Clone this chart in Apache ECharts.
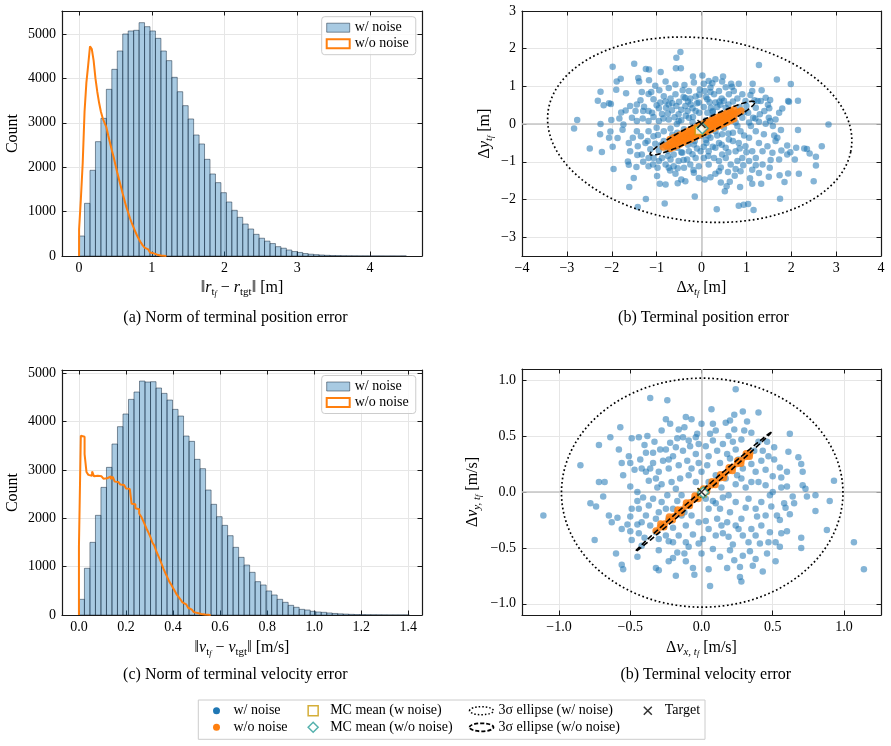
<!DOCTYPE html>
<html>
<head>
<meta charset="utf-8">
<script src="https://cdn.jsdelivr.net/npm/echarts@6.0.0/dist/echarts.min.js"></script>
<style>html,body{margin:0;padding:0;background:#fff}#chart{width:891px;height:746px}</style>
</head>
<body>
<div id="chart"></div>
<script>
// ---- histogram data (bin start, bin width, counts) ----
const posNoiseStart = 0, posNoiseWidth = 0.075;
const posNoise = [450,1186,1930,2575,3100,3754,4204,4617,5000,5068,5083,5255,5165,5068,4902,4617,4400,4024,3700,3386,
  3086,2725,2523,2177,1847,1652,1426,1216,1029,871,720,608,488,400,335,280,210,175,135,100,
  80,55,40,30,22,15,10,8,5,4,3,2,2,1,1,1,0,1,0,1];
const posCleanStart = 0, posCleanWidth = 0.025;
const posClean = [600,1300,2100,3250,3900,4300,4720,4660,4400,4000,3700,3450,3250,3100,3000,2900,2720,2550,2380,2230,
  2050,1880,1720,1560,1400,1250,1100,980,850,740,640,540,450,370,300,240,190,150,110,80,
  60,45,30,20,12,8,4,2];
const velNoiseStart = 0, velNoiseWidth = 0.0234;
const velNoise = [324,966,1503,2062,2641,3055,3538,3897,4159,4462,4614,4841,4821,4828,4697,4586,4448,4255,4117,3703,
  3593,3221,3028,2586,2290,2034,1855,1641,1400,1193,1034,883,690,621,497,414,324,262,200,159,
  117,103,76,62,55,42,32,24,18,13,9,7,5,4,3,2,1,1,1,1];
const velCleanStart = 0, velCleanWidth = 0.008;
const velClean = [1414,3710,3690,3330,2960,2900,2880,2970,2870,2880,2860,2870,2840,2820,2830,2800,2870,2810,2860,2760,
  2750,2720,2700,2690,2660,2620,2610,2590,2300,2290,2210,2190,2100,2040,1960,1870,1780,1700,1610,1500,
  1440,1330,1240,1150,1050,950,860,780,690,630,560,490,420,370,320,260,220,180,150,110,
  80,60,40,30,20,14,9,5,3,1];

// ---- terminal position error scatter [dx, dy] ----
const posNoiseXY = [
  [-0.47,1.91],[-0.56,1.76],[-0.57,1.48],[-0.46,1.48],[-1.50,1.60],[-1.98,1.52],[-1.17,1.45],[-1.24,1.46],[-0.91,1.38],
  [-1.41,1.22],[-1.39,1.13],[-1.17,1.16],[-1.89,1.13],[-1.80,1.20],[-2.25,0.86],[-2.31,0.62],[-2.18,0.50],[-2.06,0.55],[-2.02,0.53],[-1.90,0.91],
  [-2.77,0.11],[-2.84,-0.12],[-2.49,-0.65],[-2.22,-0.74],[-2.26,-0.27],[-2.06,-0.36],[-2.03,-0.20],[-1.98,-0.60],[-2.01,0.11],[-2.25,0.00],
  [-1.79,0.31],[-1.69,0.36],[-1.83,0.15],[-1.74,-0.01],[-1.87,-0.37],[-1.76,-0.15],[-1.96,-1.19],[-1.62,-1.08],[-1.64,-0.99],[-1.61,-1.67],
  [-1.51,-1.43],[-1.42,-2.20],[-1.24,-1.99],[-0.82,-2.11],[-0.93,-1.58],[-0.80,-1.60],[-0.99,-1.38],[-0.53,-1.57],[-0.36,-1.52],[-0.15,-1.92],
  [0.34,-2.26],[0.83,-2.17],[0.94,-2.14],[1.04,-2.12],[1.16,-2.28],[1.75,-1.98],[0.52,-1.78],[0.56,-1.65],[0.86,-1.67],[1.13,-1.58],
  [1.33,-1.58],[1.85,-1.54],[2.17,-1.32],[2.50,-1.52],[1.93,-1.31],[1.74,-1.36],[1.50,-1.40],[2.55,-1.10],[2.55,-0.87],[2.41,-0.78],
  [2.35,-0.66],[2.29,-0.65],[2.68,-0.59],[2.08,-0.94],[2.11,-0.63],[1.98,-0.75],[1.91,-0.57],[1.78,-0.70],[2.83,-0.01],[2.15,-0.16],
  [1.77,-0.16],[1.93,0.61],[2.15,0.62],[1.95,0.59],[1.80,0.41],[1.53,0.64],[1.48,0.51],[1.34,0.90],[1.14,1.07],[1.68,1.18],
  [1.28,1.57],[1.99,1.06],[0.48,1.26],[0.02,1.29],[-0.19,1.26],[0.05,1.07],[0.24,1.08],[0.66,1.07],[0.68,0.99],[1.18,0.63],
  [1.25,0.61],[1.51,0.42],[1.50,0.17],[1.53,0.08],[1.43,0.01],[1.62,-0.30],[1.69,-0.36],[1.91,-0.81],[1.54,-0.95],[1.52,-1.16],
  [1.36,-1.07],[1.21,-1.09],[0.93,-1.09],[0.76,-1.19],[0.59,-1.27],[0.43,-1.15],[0.20,-1.41],[0.07,-1.47],[-0.06,-1.43],[-0.58,-1.32],
  [-0.70,-1.23],[-0.98,-1.16],[-1.08,-1.07],[-1.18,-0.90],[-1.43,-0.82],[-1.30,-1.00],[-1.45,-1.14],[-0.75,-0.85],[0.43,-1.55],[0.63,-1.53],
  [1.08,-1.44],[1.28,-1.30],[0.74,-1.37],[0.31,-1.32],[-0.18,-1.22],[-0.45,-1.47],[-0.53,-1.17],
  [-1.68,0.82],[-1.59,0.48],[-1.47,0.35],[-1.36,0.63],[-1.28,0.46],[-1.18,0.80],[-1.07,0.66],[-1.00,0.50],[-1.12,0.85],[-0.94,0.90],
  [-0.84,0.74],[-0.73,0.96],[-0.69,0.68],[-0.58,0.79],[-0.50,0.59],[-0.42,0.90],[-0.36,0.69],[-0.28,0.88],[-0.24,0.52],[-0.13,0.73],
  [-0.04,0.92],[-0.06,0.57],[-0.13,0.35],[-0.31,0.35],[-0.51,0.26],[-0.66,0.37],[-0.79,0.43],[-0.88,0.27],[-1.07,0.19],[-1.18,0.35],
  [-1.31,0.15],[-1.44,0.08],[-1.55,0.17],[-1.44,0.52],[-1.18,0.08],[-0.95,0.08],[-0.73,0.12],[-0.51,0.08],[-0.28,0.17],[-0.58,1.05],
  [-0.80,1.13],[-0.38,1.04],[-0.17,1.10],[-1.03,1.02],[-0.73,0.52],[-0.56,0.48],[-0.19,0.19],[-0.36,0.48],[-0.92,0.57],[-1.33,0.85],
  [0.07,0.88],[0.13,0.66],[0.20,0.97],[0.28,0.79],[0.39,0.88],[0.45,0.68],[0.54,0.98],[0.61,0.79],[0.72,0.88],[0.80,0.68],
  [0.91,0.79],[0.98,0.61],[1.09,0.77],[1.21,0.43],[1.32,0.61],[1.40,0.35],[1.30,0.26],[1.15,0.17],[1.04,0.30],[0.91,0.17],
  [0.77,0.27],[0.65,0.35],[0.54,0.43],[0.42,0.51],[0.31,0.57],[0.21,0.43],[0.13,0.30],[0.24,0.19],[0.39,0.12],[0.54,0.08],
  [0.76,0.04],[1.06,0.04],[1.28,0.06],[1.65,0.12],[1.73,0.30],[1.59,-0.05],[0.83,1.07],[0.46,1.13],[0.31,1.19],[0.16,1.14],
  [1.13,0.88],[1.43,0.70],
  [-1.62,-0.50],[-1.53,-0.36],[-1.42,-0.59],[-1.35,-0.32],[-1.25,-0.50],[-1.14,-0.67],[-1.07,-0.32],[-1.03,-0.52],[-0.95,-0.70],[-0.88,-0.90],
  [-0.95,-0.98],[-0.80,-1.07],[-0.69,-0.94],[-0.62,-1.12],[-0.51,-0.98],[-0.39,-1.16],[-0.32,-0.94],[-0.25,-1.07],[-0.13,-0.90],[-0.06,-1.12],
  [-0.02,-0.72],[-0.17,-0.54],[-0.28,-0.72],[-0.43,-0.76],[-0.54,-0.63],[-0.62,-0.81],[-0.73,-0.59],[-0.84,-0.45],[-0.97,-0.29],[-0.84,-0.19],
  [-0.69,-0.12],[-0.54,-0.23],[-0.39,-0.14],[-0.28,-0.36],[-0.13,-0.23],[-1.18,-0.19],[-1.44,-0.19],[-1.59,-0.72],[-1.33,-0.81],[-1.07,-0.90],
  [-0.73,-1.16],[-0.17,-1.29],[-1.18,-1.12],
  [0.09,-0.19],[0.20,-0.36],[0.31,-0.19],[0.39,-0.50],[0.46,-0.27],[0.54,-0.63],[0.61,-0.41],[0.70,-0.23],[0.76,-0.72],[0.83,-0.50],
  [0.91,-0.90],[0.98,-0.59],[1.06,-0.36],[1.13,-0.72],[1.21,-0.90],[1.28,-0.50],[1.36,-0.72],[1.47,-0.59],[1.39,-0.27],[1.21,-0.19],
  [0.87,-0.19],[0.16,-0.72],[0.28,-0.90],[0.05,-0.90],[0.16,-1.07],[0.39,-0.98],[0.54,-0.90],[0.65,-1.07],[0.80,-0.98],[1.06,-0.98],
  [0.46,-0.81],[0.31,-0.63],[0.11,-0.50],[1.65,-0.45],[1.58,-0.76],[1.73,-0.94],[0.39,-1.25],[0.87,-1.25],[1.13,-1.21],
  [-0.20,0.05],[0.10,0.10],[0.30,-0.05],[-0.35,-0.30],[0.15,-0.30],[-0.05,0.30],[0.50,-0.10],[-0.45,0.10],[0.25,0.35],[-0.15,-0.45],
  [0.60,0.20],[-0.60,-0.40],[0.05,-0.60],[-0.30,0.60],[0.40,0.60],
  [-1.10,0.30],[-0.95,0.42],[-0.85,0.15],[-0.75,0.28],[-0.65,0.55],[-0.60,0.18],[-0.45,0.38],[-0.40,0.72],[-0.35,0.22],[-0.25,0.68],
  [-0.20,0.42],[-0.10,0.55],[-0.05,0.78],[0.05,0.45],[0.10,0.72],[0.18,0.58],[0.25,0.32],[0.35,0.45],[0.45,0.28],[0.50,0.62],
  [0.60,0.52],[0.70,0.60],[0.85,0.45],[0.95,0.32],[1.00,0.48],[1.10,-0.05],[0.95,-0.30],[0.80,-0.05],[0.70,-0.45],[0.60,-0.75],
  [0.45,-0.55],[0.35,-0.30],[0.25,-0.60],[0.10,-0.42],[0.00,-0.30],[-0.10,-0.65],[-0.20,-0.80],[-0.30,-0.55],[-0.40,-0.95],[-0.50,-0.45],
  [-0.65,-0.28],[-0.75,-0.70],[-0.90,-0.55],[-1.00,-0.10],[-1.20,-0.45],[-1.30,0.35],[-0.55,0.00],[0.60,-0.25],[1.00,-0.75],[1.20,0.15],
  [0.20,0.85],[-0.45,-0.75],[0.15,-0.85],[-0.80,0.60],[0.85,-0.65]
];
const posCleanXY = [
  [-0.85,-0.61],[-0.78,-0.575],[-0.70,-0.53],[-0.62,-0.486],[-0.55,-0.447],[-0.48,-0.408],[-0.40,-0.364],[-0.33,-0.325],
  [-0.25,-0.28],[-0.18,-0.241],[-0.10,-0.197],[-0.03,-0.158],[0.05,-0.113],[0.12,-0.074],[0.20,-0.03],[0.27,0.009],
  [0.35,0.054],[0.42,0.092],[0.50,0.137],[0.57,0.176],[0.65,0.22],[0.72,0.259],[0.80,0.304],[0.88,0.348],
  [-0.70,-0.41],[-0.62,-0.366],[-0.55,-0.327],[-0.48,-0.288],[-0.40,-0.244],[-0.33,-0.205],[-0.25,-0.16],[-0.18,-0.121],
  [-0.10,-0.077],[-0.03,-0.038],[0.05,0.007],[0.12,0.046],[0.20,0.09],[0.27,0.129],[0.35,0.174],[0.42,0.212],
  [0.50,0.257],[0.57,0.296],[0.65,0.34],[0.72,0.379],
  [-0.70,-0.65],[-0.62,-0.606],[-0.55,-0.567],[-0.48,-0.528],[-0.40,-0.484],[-0.33,-0.445],[-0.25,-0.40],[-0.18,-0.361],
  [-0.10,-0.317],[-0.03,-0.278],[0.05,-0.233],[0.12,-0.194],[0.20,-0.15],[0.27,-0.111],[0.35,-0.066],[0.42,-0.028],
  [0.50,0.017],[0.57,0.056],[0.65,0.10],[0.72,0.139]
];
// ellipse: [cx, cy, semi-major, semi-minor, angle deg]
const posEllNoise = [-0.04, -0.15, 3.415, 2.425, -9.9];
const posEllClean = [0.02, -0.11, 1.355, 0.18, 31];
const posMeanNoise = [-0.05, -0.17];
const posMeanClean = [0.02, -0.11];

// ---- terminal velocity error scatter [dvx, dvy] ----
const velNoiseXY = [
  [-1.11,-0.21],[-0.85,0.24],[-0.72,0.42],[-0.72,0.09],[-0.68,0.09],[-0.78,-0.10],[-0.74,-0.13],[-0.69,-0.04],[-0.75,-0.43],[-0.60,-0.55],
  [-0.56,-0.65],[-0.55,-0.69],[-0.45,-0.58],[-0.64,0.49],[-0.57,0.58],[-0.49,0.48],[-0.44,0.49],[-0.38,0.50],[-0.36,0.84],[-0.24,0.82],
  [-0.58,0.38],[-0.51,0.32],[-0.56,0.26],[-0.50,0.26],[-0.55,0.15],[-0.65,-0.21],[-0.63,-0.27],[-0.59,-0.23],[-0.56,-0.33],[-0.52,-0.29],
  [-0.50,-0.35],[-0.49,-0.43],[-0.44,-0.37],[-0.40,-0.41],[-0.32,-0.68],[-0.30,-0.70],[-0.23,-0.62],[-0.20,-0.59],[-0.18,-0.75],[-0.11,-0.62],
  [-0.06,-0.68],[-0.05,-0.74],[0.06,-0.84],[0.05,-0.69],[0.13,-0.58],[0.18,-0.68],[0.23,-0.61],[0.27,-0.67],[0.27,-0.76],[0.28,-0.80],
  [0.36,-0.66],[0.43,-0.71],[0.38,-0.60],[0.29,-0.57],[0.52,-0.62],[0.46,-0.55],[0.52,-0.45],[0.56,-0.37],[0.60,-0.35],[0.55,-0.49],
  [0.70,-0.50],[0.70,-0.41],[0.88,-0.34],[1.07,-0.45],[1.14,-0.69],[0.90,-0.08],[0.80,-0.17],[0.74,-0.04],[0.80,-0.03],[0.65,-0.10],
  [0.58,-0.10],[0.59,-0.14],[0.93,0.10],[0.71,0.06],[0.73,0.03],[0.71,0.18],[0.70,0.25],[0.68,0.31],[0.61,0.36],[0.62,0.52],
  [0.51,0.40],[0.40,0.71],[0.29,0.72],[0.23,0.69],[0.24,0.92],[0.07,0.74],[0.17,0.62],[0.20,0.64],[0.32,0.63],[0.35,0.53],
  [0.23,0.56],[0.08,0.61],[0.00,0.61],[-0.07,0.65],[-0.11,0.67],[-0.25,0.65],[-0.22,0.61],[-0.16,0.56],[-0.09,0.46],[-0.03,0.52],
  [-0.43,0.29],[-0.42,0.21],[-0.36,0.21],[-0.29,0.38],[-0.25,0.38],[-0.17,0.48],[-0.49,-0.15],[-0.44,-0.15],[-0.45,-0.29],[-0.36,-0.30],
  [-0.23,-0.44],[-0.17,-0.54],[-0.09,-0.49],[-0.02,-0.46],[0.08,-0.51],[0.15,-0.37],[0.22,-0.47],[0.34,-0.53],[0.41,-0.46],[0.48,-0.36],
  [0.42,-0.30],[0.39,-0.22],[0.53,-0.21],[0.49,-0.13],[0.56,0.04],[0.50,0.14],[0.56,0.13],[0.60,0.18],[0.55,0.22],[0.45,0.20],
  [0.42,0.28],[0.46,0.45],[0.37,0.37],[0.51,0.29],[0.64,-0.04],
  [-0.34,0.26],[-0.30,0.18],[-0.27,0.28],[-0.23,0.21],[-0.20,0.32],[-0.16,0.24],[-0.13,0.37],[-0.10,0.28],[-0.07,0.21],[-0.04,0.34],
  [-0.02,0.26],[-0.09,0.15],[-0.15,0.12],[-0.21,0.09],[-0.28,0.07],[-0.32,0.12],[-0.37,0.10],[-0.39,0.18],[-0.31,0.04],[-0.18,0.03],
  [-0.04,0.09],[-0.02,0.43],[-0.18,0.40],[-0.04,0.49],[-0.22,0.44],[-0.34,0.35],[-0.39,0.35],[-0.13,0.49],[-0.23,0.29],[-0.08,0.41],
  [0.03,0.41],[0.05,0.32],[0.08,0.46],[0.11,0.37],[0.13,0.26],[0.15,0.43],[0.18,0.34],[0.20,0.21],[0.24,0.38],[0.26,0.29],
  [0.29,0.21],[0.33,0.32],[0.35,0.25],[0.38,0.18],[0.40,0.09],[0.35,0.09],[0.28,0.12],[0.24,0.07],[0.17,0.12],[0.10,0.15],
  [0.05,0.09],[0.14,0.04],[0.45,0.06],[0.47,0.32],[0.06,0.52],[0.28,0.47],[0.19,0.50],[0.04,0.24],[0.43,0.37],[0.31,0.04],
  [-0.45,-0.08],[-0.41,-0.05],[-0.37,-0.12],[-0.34,-0.06],[-0.30,-0.18],[-0.28,-0.09],[-0.24,-0.03],[-0.23,-0.24],[-0.20,-0.15],[-0.17,-0.08],
  [-0.14,-0.21],[-0.11,-0.30],[-0.09,-0.12],[-0.07,-0.21],[-0.04,-0.06],[-0.02,-0.27],[-0.06,-0.38],[-0.16,-0.39],[-0.20,-0.32],[-0.28,-0.30],
  [-0.32,-0.24],[-0.39,-0.21],[-0.25,-0.39],[-0.30,-0.42],[-0.11,-0.45],[-0.42,-0.27],[-0.32,-0.36],[-0.14,-0.03],
  [0.03,-0.06],[0.05,-0.15],[0.08,-0.08],[0.11,-0.24],[0.13,-0.15],[0.15,-0.05],[0.18,-0.27],[0.20,-0.18],[0.24,-0.09],[0.26,-0.33],
  [0.28,-0.24],[0.31,-0.14],[0.33,-0.06],[0.35,-0.33],[0.38,-0.15],[0.42,-0.09],[0.45,-0.21],[0.48,-0.03],[0.05,-0.33],[0.10,-0.39],
  [0.14,-0.30],[0.19,-0.40],[0.24,-0.30],[0.29,-0.39],[0.03,-0.26],[0.01,-0.42],[0.38,-0.39],[0.19,-0.03],
  [-0.50,0.05],[-0.47,0.20],[-0.40,0.42],[-0.33,0.45],[-0.28,0.55],[-0.12,0.58],[0.10,0.55],[0.22,0.45],[0.30,0.55],[0.40,0.45],
  [0.50,0.00],[0.55,-0.25],[0.47,-0.45],[0.33,-0.45],[0.20,-0.52],[0.00,-0.55],[-0.12,-0.55],[-0.30,-0.52],[-0.42,-0.48],[-0.50,-0.22],
  [-0.45,0.00],[0.60,0.05],[0.62,-0.20],[0.00,0.18],[-0.12,-0.18],[0.10,-0.10],[0.25,0.15],[-0.25,-0.15],[0.20,0.30],[-0.20,-0.45]
];
const velCleanXY = [
  [-0.32,-0.347],[-0.29,-0.315],[-0.26,-0.284],[-0.23,-0.252],[-0.20,-0.221],[-0.17,-0.189],[-0.14,-0.158],[-0.11,-0.126],
  [-0.08,-0.095],[-0.05,-0.063],[-0.02,-0.032],[0.01,0.0],[0.04,0.032],[0.07,0.063],[0.10,0.095],[0.13,0.126],
  [0.16,0.158],[0.19,0.189],[0.22,0.221],[0.25,0.252],[0.28,0.284],[0.31,0.315],[0.34,0.347],
  [-0.287,-0.285],[-0.227,-0.222],[-0.167,-0.159],[-0.107,-0.096],[-0.047,-0.033],[0.013,0.03],[0.073,0.093],[0.133,0.156],
  [0.193,0.219],[0.253,0.282],[0.313,0.345],
  [-0.263,-0.313],[-0.203,-0.25],[-0.143,-0.187],[-0.083,-0.124],[-0.023,-0.061],[0.037,0.002],[0.097,0.065],[0.157,0.128],
  [0.217,0.191],[0.277,0.254],[0.337,0.317]
];
const velEllNoise = [0.005, -0.006, 0.988, 1.024, 0];
const velEllClean = [0.012, 0.0, 0.715, 0.016, 48.2];
const velMeanNoise = [0.005, -0.006];
const velMeanClean = [0.012, -0.005];
const target = [0, 0];

// ---- styling ----
const F = '"Liberation Serif", "Times New Roman", serif';
const C0 = '#1f77b4', C1 = '#ff7f0e', GOLD = '#c99a06', TEAL = '#2a9d99';
const BAR_FILL = 'rgba(31,119,180,0.39)', BAR_EDGE = 'rgba(20,40,60,0.5)';
const ELLIPSE_ICON = 'path://M0,4C0,1.79 5.37,0 12,0C18.63,0 24,1.79 24,4C24,6.21 18.63,8 12,8C5.37,8 0,6.21 0,4Z';
const X_ICON = 'path://M0,0L10,10M10,0L0,10';

function toBins(start, width, counts) {
  return counts.map((c, i) => [start + i * width, start + (i + 1) * width, c]);
}
function toSteps(start, width, counts) {
  const pts = [[start, 0]];
  counts.forEach((c, i) => pts.push([start + i * width, c]));
  pts.push([start + counts.length * width, 0]);
  return pts;
}
function barRender(params, api) {
  const lo = api.coord([api.value(0), 0]);
  const hi = api.coord([api.value(1), api.value(2)]);
  return {type: 'rect', shape: {x: lo[0], y: hi[1], width: hi[0] - lo[0], height: lo[1] - hi[1]},
    style: {fill: BAR_FILL, stroke: BAR_EDGE, lineWidth: 1}};
}
function ellipseRender(dash, width) {
  return function (params, api) {
    const cx = api.value(0), cy = api.value(1), a = api.value(2), b = api.value(3);
    const th = api.value(4) * Math.PI / 180;
    const pts = [];
    for (let k = 0; k <= 240; k++) {
      const t = 2 * Math.PI * k / 240;
      pts.push(api.coord([
        cx + a * Math.cos(t) * Math.cos(th) - b * Math.sin(t) * Math.sin(th),
        cy + a * Math.cos(t) * Math.sin(th) + b * Math.sin(t) * Math.cos(th)
      ]));
    }
    return {type: 'polyline', shape: {points: pts}, style: {fill: 'none', stroke: '#000', lineWidth: width, lineDash: dash}};
  };
}

const nameStyle = {
  fontFamily: F, fontSize: 16, color: '#000', lineHeight: 20, verticalAlign: 'middle',
  rich: {
    i: {fontFamily: F, fontSize: 16, fontStyle: 'italic', lineHeight: 20},
    s: {fontFamily: F, fontSize: 11, fontStyle: 'italic', lineHeight: 10, verticalAlign: 'bottom'},
    r: {fontFamily: F, fontSize: 11, lineHeight: 10, verticalAlign: 'bottom'},
    f: {fontFamily: F, fontSize: 8, fontStyle: 'italic', lineHeight: 5, verticalAlign: 'bottom'}
  }
};
const axisLine = {show: true, onZero: false, lineStyle: {color: '#1a1a1a', width: 1.2}};
const axisTick = {show: true, inside: true, length: 4.5, lineStyle: {color: '#1a1a1a', width: 1}};
const plain = v => String(v);
const minus = v => (v < 0 ? '\u2212' : '') + Math.abs(v);
const minus1 = v => (v < 0 ? '\u2212' : '') + Math.abs(v).toFixed(1);

function mainAxis(gridIndex, position, min, max, split, fmt, showMin, showMax, name, nameGap, margin) {
  return {
    type: 'value', gridIndex, position, min, max, splitNumber: split,
    axisLine, axisTick,
    splitLine: {show: true, lineStyle: {color: '#e6e6e6', width: 1}},
    axisLabel: {color: '#000', fontFamily: F, fontSize: 14, margin, formatter: fmt, showMinLabel: showMin, showMaxLabel: showMax},
    name, nameLocation: 'middle', nameGap, nameTextStyle: nameStyle
  };
}
function sideAxis(gridIndex, position, min, max, split) {
  return {type: 'value', gridIndex, position, min, max, splitNumber: split,
    axisLine, axisTick, splitLine: {show: false}, axisLabel: {show: false}};
}

// axis index 2*g is the labelled axis of grid g, 2*g+1 the mirrored one
const xAxes = [
  mainAxis(0, 'bottom', -0.235, 4.715, 5, plain, false, false, '\u2016{i|r}{r|t}{f|f} \u2212 {i|r}{r|tgt}\u2016 [m]', 32, 5),
  sideAxis(0, 'top', -0.235, 4.715, 5),
  mainAxis(1, 'bottom', -4, 4, 8, minus, true, true, '\u0394{i|x}{s|t}{f|f} [m]', 32, 5),
  sideAxis(1, 'top', -4, 4, 8),
  mainAxis(2, 'bottom', -0.072, 1.458, 8, v => v.toFixed(1), false, false, '\u2016{i|v}{r|t}{f|f} \u2212 {i|v}{r|tgt}\u2016 [m/s]', 33, 5),
  sideAxis(2, 'top', -0.072, 1.458, 8),
  mainAxis(3, 'bottom', -1.26, 1.26, 5, minus1, false, false, '\u0394{i|v}{s|x, t}{f|f} [m/s]', 33, 5),
  sideAxis(3, 'top', -1.26, 1.26, 5)
];
const yAxes = [
  mainAxis(0, 'left', 0, 5518, 5, plain, true, false, 'Count', 49, 6),
  sideAxis(0, 'right', 0, 5518, 5),
  mainAxis(1, 'left', -3.5, 3, 7, minus, false, true, '\u0394{i|y}{s|t}{f|f} [m]', 37, 6),
  sideAxis(1, 'right', -3.5, 3, 7),
  mainAxis(2, 'left', 0, 5070, 5, plain, true, false, 'Count', 49, 6),
  sideAxis(2, 'right', 0, 5070, 5),
  mainAxis(3, 'left', -1.1, 1.1, 4, minus1, false, false, '\u0394{i|v}{s|y, t}{f|f} [m/s]', 49, 6),
  sideAxis(3, 'right', -1.1, 1.1, 4)
];

function histSeries(g, noiseBins, cleanSteps) {
  const ax = 2 * g;
  return [
    {type: 'custom', name: 'w/ noise', xAxisIndex: ax, yAxisIndex: ax, data: noiseBins,
      encode: {x: [0, 1], y: 2}, renderItem: barRender, clip: true, z: 2},
    {type: 'line', name: 'w/o noise', xAxisIndex: ax, yAxisIndex: ax, data: cleanSteps, step: 'end',
      symbol: 'none', showSymbol: false, clip: true, lineStyle: {color: C1, width: 2}, itemStyle: {color: C1}, z: 3}
  ];
}
function scatterSeries(g, noiseXY, cleanXY, cleanSize, ellNoise, ellClean, meanNoise, meanClean) {
  const ax = 2 * g;
  return [
    {type: 'scatter', name: 'w/ noise', xAxisIndex: ax, yAxisIndex: ax, data: noiseXY, symbolSize: 6.5,
      itemStyle: {color: C0, opacity: 0.55}, z: 2,
      markLine: {silent: true, symbol: ['none', 'none'], label: {show: false}, z: 1,
        lineStyle: {color: '#c4c4c4', width: 1.5, type: 'solid'}, data: [{xAxis: 0}, {yAxis: 0}]}},
    {type: 'scatter', name: 'w/o noise', xAxisIndex: ax, yAxisIndex: ax, data: cleanXY, symbolSize: cleanSize,
      itemStyle: {color: C1, opacity: 0.85}, z: 3},
    {type: 'custom', name: '3\u03c3 ellipse (w/ noise)', xAxisIndex: ax, yAxisIndex: ax, data: [ellNoise],
      encode: {x: 0, y: 1}, renderItem: ellipseRender([1.7, 2.6], 1.7), clip: true, z: 4},
    {type: 'custom', name: '3\u03c3 ellipse (w/o noise)', xAxisIndex: ax, yAxisIndex: ax, data: [ellClean],
      encode: {x: 0, y: 1}, renderItem: ellipseRender([5.5, 2.8], 1.6), clip: true, z: 4},
    {type: 'scatter', name: 'MC mean (w noise)', xAxisIndex: ax, yAxisIndex: ax, data: [meanNoise], symbol: 'rect', symbolSize: 8,
      itemStyle: {color: '#fff', borderColor: GOLD, borderWidth: 1.5}, z: 5},
    {type: 'scatter', name: 'MC mean (w/o noise)', xAxisIndex: ax, yAxisIndex: ax, data: [meanClean], symbol: 'diamond', symbolSize: 11,
      itemStyle: {color: '#fff', borderColor: TEAL, borderWidth: 1.6}, z: 6},
    {type: 'scatter', name: 'Target', xAxisIndex: ax, yAxisIndex: ax, data: [target], symbol: X_ICON, symbolSize: 8,
      itemStyle: {color: 'none', borderColor: '#000', borderWidth: 1.5}, z: 7}
  ];
}

const legendText = {fontFamily: F, fontSize: 14, color: '#000'};
function histLegend(top) {
  return {
    orient: 'vertical', left: 321.7, top, selectedMode: false, itemWidth: 23, itemHeight: 9, itemGap: 2,
    padding: [4, 7, 4, 4], backgroundColor: 'rgba(255,255,255,0.8)', borderColor: '#cccccc', borderWidth: 1, borderRadius: 3,
    textStyle: legendText,
    data: [
      {name: 'w/ noise', icon: 'rect', itemStyle: {color: BAR_FILL, borderColor: BAR_EDGE, borderWidth: 1}},
      {name: 'w/o noise', icon: 'rect', itemStyle: {color: '#fff', borderColor: C1, borderWidth: 2}}
    ]
  };
}
function bottomLegend(left, itemHeight, data) {
  return {orient: 'vertical', left, top: 703.7, selectedMode: false, itemWidth: 24, itemHeight, itemGap: 2.6,
    padding: 0, textStyle: legendText, data};
}

const chart = echarts.init(document.getElementById('chart'));
chart.setOption({
  animation: false,
  backgroundColor: '#fff',
  textStyle: {fontFamily: F},
  grid: [
    {left: 62, top: 11, width: 360, height: 245, containLabel: false, outerBoundsMode: 'none'},
    {left: 522, top: 11, width: 359, height: 245, containLabel: false, outerBoundsMode: 'none'},
    {left: 62, top: 370, width: 360, height: 245, containLabel: false, outerBoundsMode: 'none'},
    {left: 522, top: 369, width: 359, height: 246, containLabel: false, outerBoundsMode: 'none'}
  ],
  xAxis: xAxes,
  yAxis: yAxes,
  legend: [
    histLegend(16.7),
    histLegend(375.5),
    bottomLegend(213, 7, [
      {name: 'w/ noise', icon: 'circle', itemStyle: {color: C0, opacity: 1, borderWidth: 0}},
      {name: 'w/o noise', icon: 'circle', itemStyle: {color: C1, opacity: 1, borderWidth: 0}}
    ]),
    bottomLegend(307.4, 10, [
      {name: 'MC mean (w noise)', icon: 'path://M0,0H10V10H0Z', itemStyle: {color: '#fff', borderColor: GOLD, borderWidth: 1.5}},
      {name: 'MC mean (w/o noise)', icon: 'path://M5,0L10,5L5,10L0,5Z', itemStyle: {color: '#fff', borderColor: TEAL, borderWidth: 1.5}}
    ]),
    bottomLegend(467, 8, [
      {name: '3\u03c3 ellipse (w/ noise)', icon: ELLIPSE_ICON, itemStyle: {color: 'none', borderColor: '#000', borderWidth: 1.5, borderType: [1.5, 2]}},
      {name: '3\u03c3 ellipse (w/o noise)', icon: ELLIPSE_ICON, itemStyle: {color: 'none', borderColor: '#000', borderWidth: 1.8, borderType: [4, 2]}}
    ]),
    bottomLegend(641.3, 8, [
      {name: 'Target', icon: X_ICON, itemStyle: {color: 'none', borderColor: '#000', borderWidth: 1.5}}
    ])
  ],
  graphic: [
    {type: 'rect', shape: {x: 198.3, y: 700, width: 506.7, height: 39.3}, z: 0,
      style: {fill: 'rgba(255,255,255,0.8)', stroke: '#cccccc', lineWidth: 1}},
    {type: 'text', x: 235.5, y: 318, style: {text: '(a) Norm of terminal position error', font: '16px ' + F, fill: '#000', align: 'center', verticalAlign: 'middle'}},
    {type: 'text', x: 703.5, y: 318, style: {text: '(b) Terminal position error', font: '16px ' + F, fill: '#000', align: 'center', verticalAlign: 'middle'}},
    {type: 'text', x: 235.3, y: 675, style: {text: '(c) Norm of terminal velocity error', font: '16px ' + F, fill: '#000', align: 'center', verticalAlign: 'middle'}},
    {type: 'text', x: 705.8, y: 675, style: {text: '(b) Terminal velocity error', font: '16px ' + F, fill: '#000', align: 'center', verticalAlign: 'middle'}}
  ],
  series: [
    ...histSeries(0, toBins(posNoiseStart, posNoiseWidth, posNoise), toSteps(posCleanStart, posCleanWidth, posClean)),
    ...scatterSeries(1, posNoiseXY, posCleanXY, 7.5, posEllNoise, posEllClean, posMeanNoise, posMeanClean),
    ...histSeries(2, toBins(velNoiseStart, velNoiseWidth, velNoise), toSteps(velCleanStart, velCleanWidth, velClean)),
    ...scatterSeries(3, velNoiseXY, velCleanXY, 7, velEllNoise, velEllClean, velMeanNoise, velMeanClean)
  ]
});
</script>
</body>
</html>
